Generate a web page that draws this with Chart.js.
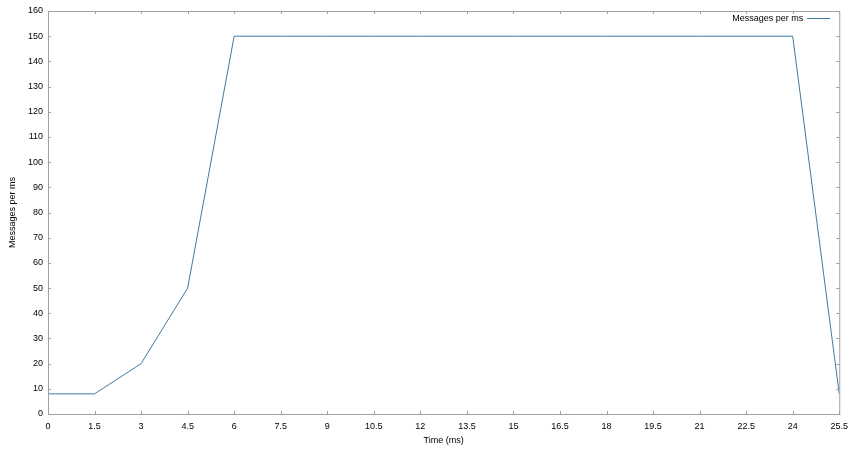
<!DOCTYPE html>
<html lang="en">
<head>
    <meta charset="UTF-8">
    <title>Messages per ms</title>
    <style>
        body { margin: 0; background: #fff; }
    </style>
</head>
<body>
    <canvas id="myChart" width="855" height="450"></canvas>
    <script src="https://cdn.jsdelivr.net/npm/chart.js"></script>
    <script>
        // data
        const times = [0, 1.5, 3, 4.5, 6, 7.5, 9, 10.5, 12, 13.5, 15, 16.5, 18, 19.5, 21, 22.5, 24, 25.5];
        const messages = [8, 8, 20, 50, 150, 150, 150, 150, 150, 150, 150, 150, 150, 150, 150, 150, 150, 8];
        const seriesName = 'Messages per ms';
        const xTitle = 'Time (ms)';
        const yTitle = 'Messages per ms';

        const lineColor = '#3f7ba1';
        const frameColor = '#a0a0a0';
        const font = { family: 'Liberation Sans, Arial, sans-serif', size: 9 };

        // gnuplot like frame with inward ticks on all four sides + legend in the corner
        const frame = {
            id: 'frame',
            afterDraw(chart) {
                const { ctx, chartArea: a, scales } = chart;
                ctx.save();
                ctx.strokeStyle = frameColor;
                ctx.lineWidth = 1;
                ctx.strokeRect(a.left + 0.5, a.top + 0.5, a.right - a.left, a.bottom - a.top);
                const t = 3;
                ctx.beginPath();
                scales.x.ticks.forEach(tk => {
                    const x = Math.round(scales.x.getPixelForValue(tk.value)) + 0.5;
                    ctx.moveTo(x, a.bottom); ctx.lineTo(x, a.bottom - t);
                    ctx.moveTo(x, a.top); ctx.lineTo(x, a.top + t);
                });
                scales.y.ticks.forEach(tk => {
                    const y = Math.round(scales.y.getPixelForValue(tk.value)) + 0.5;
                    ctx.moveTo(a.left, y); ctx.lineTo(a.left + t, y);
                    ctx.moveTo(a.right, y); ctx.lineTo(a.right - t, y);
                });
                ctx.stroke();

                // legend
                ctx.font = font.size + 'px ' + font.family;
                ctx.fillStyle = '#000';
                ctx.textAlign = 'right';
                ctx.textBaseline = 'middle';
                ctx.fillText(seriesName, a.right - 36, a.top + 8);
                ctx.strokeStyle = lineColor;
                ctx.beginPath();
                ctx.moveTo(a.right - 32, a.top + 7.5);
                ctx.lineTo(a.right - 9, a.top + 7.5);
                ctx.stroke();
                ctx.restore();
            }
        };

        new Chart(document.querySelector('#myChart').getContext('2d'), {
            type: 'line',
            data: {
                datasets: [{
                    label: seriesName,
                    data: times.map((t, i) => ({ x: t, y: messages[i] })),
                    borderColor: lineColor,
                    borderWidth: 1,
                    pointRadius: 0,
                    tension: 0
                }]
            },
            plugins: [frame],
            options: {
                responsive: false,
                animation: false,
                layout: { padding: { left: 0, right: 14, top: 11, bottom: 0 } },
                plugins: {
                    legend: { display: false },
                    tooltip: { enabled: false }
                },
                scales: {
                    x: {
                        type: 'linear',
                        min: 0,
                        max: 25.5,
                        grid: { display: false, drawTicks: false },
                        border: { display: false },
                        ticks: { stepSize: 1.5, color: '#000', font: font, padding: 7, maxRotation: 0, autoSkip: false },
                        title: { display: true, text: xTitle, color: '#000', font: font, padding: 4 },
                        afterFit(scale) { scale.height = 36; }
                    },
                    y: {
                        min: 0,
                        max: 160,
                        grid: { display: false, drawTicks: false },
                        border: { display: false },
                        ticks: { stepSize: 10, color: '#000', font: font, padding: 5 },
                        title: { display: true, text: yTitle, color: '#000', font: font, padding: 7 },
                        afterFit(scale) { scale.width = 48; }
                    }
                }
            }
        });
    </script>
</body>
</html>
